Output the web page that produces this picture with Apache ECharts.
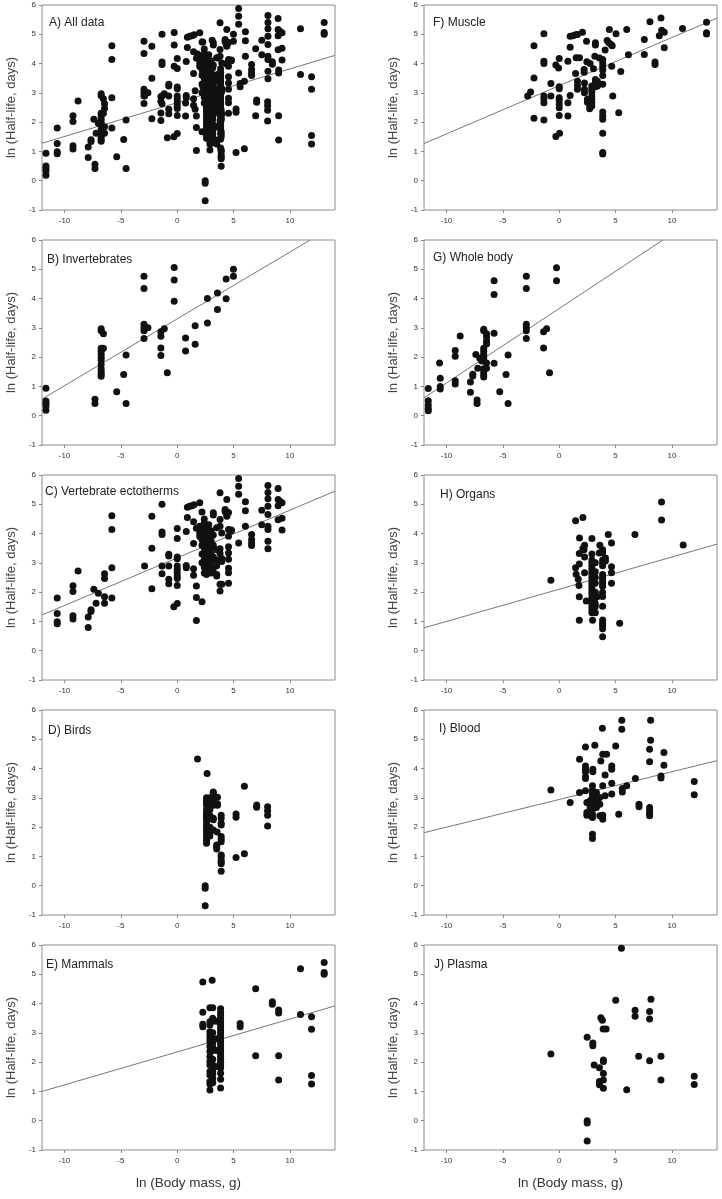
<!DOCTYPE html>
<html>
<head>
    <meta charset="utf-8">
    <script src="https://cdn.jsdelivr.net/npm/echarts@6/dist/echarts.min.js"></script>
    <style>
        html, body { margin: 0; padding: 0; background: #fff; }
    </style>
</head>
<body>
    <div id="main" style="width:722px;height:1199px;"></div>
    <script type="text/javascript">
        // each row: [x, y1, y2, ...]  (points sharing the same ln body mass)
        var invertebrates = [
            [-11.65, 0.94, 0.5, 0.42, 0.33, 0.19],
            [-7.3, 0.56, 0.42],
            [-6.75, 2.97, 2.9, 2.3, 2.2, 2.1, 2.0, 1.9, 1.75, 1.6, 1.5, 1.42, 1.35],
            [-6.55, 2.8, 2.3],
            [-5.37, 0.82],
            [-4.75, 1.41],
            [-4.54, 2.07, 0.42],
            [-2.95, 4.76, 4.34, 3.12, 3.0, 2.9, 2.64],
            [-2.6, 3.0],
            [-1.45, 2.87, 2.71, 2.31, 2.06],
            [-1.15, 2.97],
            [-0.88, 1.47],
            [-0.27, 5.06, 4.63, 3.91],
            [0.74, 2.65, 2.21],
            [1.59, 3.07, 2.44],
            [2.68, 4.0, 3.17],
            [3.57, 4.19, 3.63],
            [4.34, 4.67, 3.99],
            [4.99, 5.0, 4.76]
        ];
        var ectotherms = [
            [-10.65, 1.8, 1.27, 0.99, 0.92],
            [-9.25, 2.22, 2.02, 1.19, 1.08],
            [-8.8, 2.72],
            [-7.9, 1.15, 0.79],
            [-7.65, 1.4, 1.34],
            [-7.4, 2.1],
            [-7.2, 1.62],
            [-7.0, 1.96],
            [-6.45, 2.63, 2.47, 1.84, 1.62],
            [-5.8, 4.61, 4.14, 2.83, 1.8],
            [-2.9, 2.89],
            [-2.25, 4.59, 3.5, 2.12],
            [-1.35, 5.0, 4.05, 3.97, 2.89, 2.63],
            [-0.75, 3.29, 3.23, 2.89, 2.44, 2.29],
            [-0.3, 1.5],
            [0, 1.61, 4.17, 3.83, 3.2, 3.14, 2.89, 2.78, 2.66, 2.55, 2.47, 2.23],
            [0.8, 4.07, 2.91, 2.83],
            [0.9, 4.9, 4.55],
            [1.1, 4.93],
            [1.3, 4.95],
            [1.5, 4.98],
            [1.45, 3.66, 2.8, 2.58, 4.4],
            [1.7, 4.18, 2.21, 1.82, 1.03],
            [2.0, 5.05, 4.25, 4.0, 3.9],
            [2.2, 1.67, 4.74, 4.15, 3.8, 3.6, 3.3, 3.0],
            [2.4, 4.5, 4.35, 4.05, 3.85, 3.5, 3.25, 3.1, 2.85, 2.65],
            [2.6, 4.2, 4.0, 3.95, 3.7, 3.4, 3.2, 3.0, 2.9, 2.75, 2.6],
            [2.8, 4.3, 4.05, 3.9, 3.55, 3.35, 3.15, 2.95, 2.7],
            [3.0, 4.1, 3.9, 3.75, 3.5, 3.3, 3.23, 3.05, 2.85, 2.65],
            [3.2, 4.71, 4.63, 3.95, 3.6, 3.2, 2.8],
            [3.5, 4.2, 3.45, 3.1, 2.9, 2.6, 2.55],
            [3.8, 5.39, 4.48, 4.25, 3.48, 3.32, 3.1, 2.27, 2.04],
            [3.95, 4.02, 3.15, 3.05, 2.27],
            [4.25, 4.82, 4.75],
            [4.4, 5.16, 4.59, 4.64],
            [4.55, 4.72, 4.14, 3.91, 3.55, 3.34, 3.12, 2.82, 2.66, 2.3],
            [4.8, 4.12, 4.1],
            [5.45, 5.88, 5.62, 5.34, 3.68],
            [6.05, 5.09, 4.78, 4.25],
            [6.6, 3.97, 3.8, 3.68, 3.59],
            [7.5, 4.8, 4.3],
            [8.05, 5.64, 5.4, 5.19, 4.93, 4.65, 4.25, 4.14, 3.74, 3.48],
            [8.95, 5.54, 5.16, 4.95, 4.47],
            [9.1, 5.1],
            [9.3, 5.05, 4.52, 4.12]
        ];
        var birds = [
            [1.8, 4.33],
            [2.65, 3.83],
            [2.48, 0.0, -0.09, -0.68],
            [2.6, 3.0, 2.9, 2.85, 2.75, 2.6, 2.5, 2.45, 2.4, 2.35, 2.3, 2.2, 2.1, 2.0, 1.9, 1.85, 1.75, 1.65, 1.55, 1.45],
            [2.9, 3.0, 2.8, 2.6, 2.4, 2.3, 2.0, 1.9, 1.8, 1.7],
            [3.2, 3.2, 3.15, 2.95, 2.75, 2.3, 2.25, 1.9],
            [3.57, 3.02, 2.8, 2.75],
            [3.54, 1.83],
            [3.5, 1.39, 1.34, 1.25],
            [3.9, 2.41, 2.3, 2.13, 2.07, 1.68, 1.59, 1.5, 1.05, 1.0, 0.88, 0.8, 0.75, 0.49],
            [5.22, 2.45, 2.34, 0.96],
            [5.96, 3.4, 1.09],
            [7.05, 2.76, 2.68],
            [8.02, 2.7, 2.56, 2.41, 2.04]
        ];
        var mammals = [
            [2.27, 4.74, 3.7, 3.29, 3.21],
            [3.1, 4.8],
            [2.9, 3.86, 3.38, 3.27, 3.04, 2.93, 2.81, 2.7, 2.53, 2.36, 2.19, 2.02, 1.9, 1.68, 1.56, 1.34, 1.25, 1.05],
            [3.15, 3.86, 3.5, 3.4, 3.0, 2.8, 2.65, 2.5, 2.4, 2.1, 1.9, 1.7, 1.6, 1.45, 1.3],
            [3.5, 3.4, 2.8, 2.4, 1.85],
            [3.85, 3.82, 3.7, 3.6, 3.5, 3.4, 3.3, 3.2, 3.1, 3.0, 2.9, 2.8, 2.7, 2.6, 2.5, 2.4, 2.3, 2.2, 2.1, 2.0, 1.9, 1.8, 1.62, 1.42, 1.12],
            [5.58, 3.32, 3.21],
            [6.96, 4.51, 2.22],
            [8.44, 4.06, 3.98],
            [9.0, 3.78, 3.68, 2.22, 1.39],
            [10.94, 5.19, 3.63],
            [11.92, 3.55, 3.12, 1.54, 1.25],
            [13.04, 5.4, 5.06, 5.0]
        ];
        var muscle = [
            [-2.8, 2.89],
            [-2.54, 3.03],
            [-2.24, 4.61, 3.51, 2.13],
            [-1.36, 5.02, 4.08, 4.0, 2.89, 2.8, 2.66, 2.07],
            [-0.74, 3.32, 2.89],
            [-0.3, 3.95, 1.51],
            [-0.06, 3.85],
            [0.03, 1.62],
            [0, 4.17, 3.21, 3.14, 2.83, 2.74, 2.61, 2.49, 2.23],
            [0.77, 4.08, 2.66, 2.21],
            [0.97, 4.93, 4.56, 2.91],
            [1.21, 4.95],
            [1.45, 4.98, 3.66],
            [1.62, 4.99, 3.4, 3.25, 3.12],
            [1.5, 4.2],
            [1.8, 4.2],
            [2.06, 5.07],
            [2.24, 3.34, 3.12, 3.0],
            [2.21, 3.8, 3.7],
            [2.42, 4.76],
            [2.45, 4.06],
            [2.74, 4.0],
            [2.5, 2.78, 2.68],
            [2.7, 2.57, 2.46],
            [2.89, 3.23, 3.12, 3.03, 2.89, 2.78, 2.66, 2.55],
            [3.04, 3.82],
            [3.21, 4.71, 4.63, 3.46, 3.34, 3.21],
            [3.16, 4.25],
            [3.39, 3.4, 3.23],
            [3.57, 4.19],
            [3.86, 4.14, 4.02, 3.91, 3.78, 3.59, 3.29, 2.35, 2.21, 2.1, 1.62, 0.96, 0.91],
            [4.07, 4.46],
            [4.25, 4.79],
            [4.4, 4.71],
            [4.6, 4.65],
            [4.7, 4.61],
            [4.45, 5.16],
            [4.66, 3.91],
            [4.75, 2.89],
            [5.04, 5.02],
            [5.46, 3.73],
            [5.28, 2.32],
            [5.99, 5.16],
            [6.14, 4.3],
            [7.55, 4.82, 4.31],
            [8.05, 5.43],
            [8.5, 4.05, 3.97],
            [8.88, 4.95],
            [9.03, 5.56],
            [9.09, 5.14],
            [9.32, 5.07, 4.54],
            [10.94, 5.2],
            [13.07, 5.41, 5.05, 5.01]
        ];
        var wholeBody = [
            [-11.62, 0.93, 0.51, 0.37, 0.24, 0.17],
            [-10.62, 1.8],
            [-10.56, 1.28, 1.0, 0.91],
            [-9.23, 2.23, 2.03, 1.19, 1.08],
            [-8.79, 2.72],
            [-7.88, 1.15, 0.8],
            [-7.67, 1.42, 1.36],
            [-7.4, 2.09],
            [-7.29, 0.54, 0.42],
            [-7.23, 1.62],
            [-7.05, 1.96],
            [-6.87, 1.87],
            [-6.7, 2.95, 2.9, 2.3, 2.2, 2.1, 2.0, 1.9, 1.6, 1.5, 1.4, 1.32],
            [-6.45, 2.8, 2.7, 2.55, 2.45, 1.8, 1.62],
            [-5.78, 4.61, 4.14, 2.82, 1.79],
            [-5.28, 0.82],
            [-4.72, 1.41],
            [-4.54, 2.07, 0.42],
            [-2.92, 4.76, 4.34, 3.12, 3.0, 2.9, 2.64],
            [-1.39, 2.87, 2.31],
            [-1.12, 2.97],
            [-0.86, 1.47],
            [-0.24, 5.05, 4.61]
        ];
        var organs = [
            [-0.74, 2.41],
            [1.45, 4.44, 2.83],
            [2.1, 4.55, 3.5],
            [1.5, 2.61],
            [1.69, 2.44],
            [1.75, 2.23],
            [1.78, 3.32, 2.96, 1.84, 1.04],
            [1.8, 3.85],
            [2.25, 3.6, 3.2, 2.66],
            [2.2, 3.45],
            [2.4, 1.7],
            [2.9, 3.83, 3.3, 3.1, 3.0, 2.9, 2.8, 2.7, 2.6, 2.5, 2.4, 2.3, 2.2, 2.1, 2.0, 1.9, 1.8, 1.7, 1.6, 1.5, 1.4, 1.3],
            [3.2, 3.0, 2.7, 2.5, 2.3, 2.0, 1.8, 1.6, 1.5, 1.3],
            [2.96, 1.04],
            [3.4, 1.85],
            [3.55, 3.34],
            [3.61, 3.6],
            [3.85, 3.45, 3.35, 3.1, 3.0, 2.9, 2.6, 2.5, 2.4, 2.3, 2.2, 2.0, 1.85, 1.52, 1.05, 0.95, 0.85, 0.75, 0.48],
            [4.1, 3.17, 3.06],
            [4.35, 3.97],
            [4.64, 3.68, 2.87, 2.66, 2.3],
            [5.36, 0.94],
            [6.72, 3.97],
            [9.08, 5.08, 4.46],
            [11.0, 3.61]
        ];
        var blood = [
            [-0.74, 3.27],
            [0.97, 2.84],
            [1.8, 4.32, 3.18],
            [2.33, 4.74, 4.09, 3.98, 3.89, 3.72, 3.66, 3.24],
            [2.45, 2.84, 2.5, 2.41],
            [2.74, 2.9, 2.67, 2.41],
            [2.98, 3.98, 3.89],
            [2.95, 3.41, 3.26, 3.13, 3.01, 2.93, 2.78, 2.61, 2.44, 2.33, 1.76, 1.61],
            [3.16, 4.8],
            [3.3, 3.18, 3.07, 2.84, 2.67],
            [3.6, 3.01, 2.78, 2.39],
            [3.69, 4.26],
            [3.83, 5.38],
            [3.86, 4.49, 3.41, 2.41, 2.27],
            [4.2, 4.49],
            [4.07, 3.78, 3.07],
            [4.66, 4.09, 3.98, 3.5, 3.13],
            [5.01, 4.77],
            [5.28, 2.44],
            [5.55, 5.65, 5.34],
            [5.6, 3.32, 3.2],
            [5.99, 3.41],
            [6.76, 3.66],
            [7.08, 2.78, 2.7],
            [8.02, 4.66, 4.23, 2.67, 2.56, 2.47, 2.39],
            [8.11, 5.65, 4.97],
            [9.03, 3.75, 3.68],
            [9.29, 4.55, 4.11],
            [11.98, 3.56, 3.11]
        ];
        var plasma = [
            [-0.74, 2.28],
            [2.48, 2.85, 0.0, -0.08, -0.69],
            [2.98, 2.65, 2.56],
            [3.1, 1.9],
            [3.57, 1.81, 1.34, 1.23],
            [3.69, 3.52],
            [3.83, 3.43],
            [3.9, 3.13],
            [4.16, 3.13],
            [3.92, 2.07, 2.02, 1.61, 1.39, 1.11],
            [5.01, 4.11],
            [5.52, 5.89],
            [5.99, 1.06],
            [6.73, 3.77, 3.57],
            [7.05, 2.2],
            [8.02, 3.73, 3.47, 2.05],
            [8.14, 4.15],
            [9.03, 2.2, 1.39],
            [11.98, 1.52, 1.24]
        ];

        // regression line end points
        var fitA = [[-12, 1.28], [14, 4.28]];
        var fitB = [[-12, 0.57], [11.8, 6]];
        var fitC = [[-12, 1.22], [14, 5.45]];
        var fitE = [[-12, 1.0], [14, 3.92]];
        var fitF = [[-12, 1.27], [14, 5.55]];
        var fitG = [[-12, 0.61], [9.2, 6]];
        var fitH = [[-12, 0.78], [14, 3.64]];
        var fitI = [[-12, 1.81], [14, 4.27]];

        var xTicks = [-10, -5, 0, 5, 10];
        var xName = 'ln (Body mass, g)';
        var yName = 'ln (Half-life, days)';

        function pts(rows) {
            var out = [];
            for (var i = 0; i < rows.length; i++) {
                for (var j = 1; j < rows[i].length; j++) {
                    out.push([rows[i][0], rows[i][j]]);
                }
            }
            return out;
        }

        var allData = pts(invertebrates).concat(pts(ectotherms), pts(birds), pts(mammals));

        var panels = [
            {label: 'A) All data', col: 0, row: 0, data: allData, fit: fitA, lx: 49, ly: 24},
            {label: 'B) Invertebrates', col: 0, row: 1, data: pts(invertebrates), fit: fitB, lx: 47, ly: 261},
            {label: 'C) Vertebrate ectotherms', col: 0, row: 2, data: pts(ectotherms), fit: fitC, lx: 45, ly: 493},
            {label: 'D) Birds', col: 0, row: 3, data: pts(birds), fit: null, lx: 48, ly: 732},
            {label: 'E) Mammals', col: 0, row: 4, data: pts(mammals), fit: fitE, lx: 46, ly: 966},
            {label: 'F) Muscle', col: 1, row: 0, data: pts(muscle), fit: fitF, lx: 433, ly: 24},
            {label: 'G) Whole body', col: 1, row: 1, data: pts(wholeBody), fit: fitG, lx: 433, ly: 259},
            {label: 'H) Organs', col: 1, row: 2, data: pts(organs), fit: fitH, lx: 440, ly: 496},
            {label: 'I) Blood', col: 1, row: 3, data: pts(blood), fit: fitI, lx: 439, ly: 730},
            {label: 'J) Plasma', col: 1, row: 4, data: pts(plasma), fit: null, lx: 434, ly: 966}
        ];

        var colLeft = [42, 424];
        var rowTop = [5, 240, 475, 710, 945];
        var font = 'Liberation Sans, Arial, sans-serif';

        var grid = [], xAxis = [], yAxis = [], series = [], title = [];
        panels.forEach(function (p, i) {
            grid.push({
                left: colLeft[p.col], top: rowTop[p.row], width: 293, height: 205,
                show: true, borderColor: '#8c8c8c', borderWidth: 1
            });
            xAxis.push({
                gridIndex: i, type: 'value', min: -12, max: 14, position: 'bottom',
                name: p.row === 4 ? xName : '',
                nameLocation: 'middle', nameGap: 26,
                nameTextStyle: {fontSize: 13.5, color: '#333', fontFamily: font},
                axisLine: {show: false, onZero: false},
                axisTick: {show: true, inside: false, length: 3, customValues: xTicks, lineStyle: {color: '#888'}},
                axisLabel: {customValues: xTicks, fontSize: 8, color: '#333', margin: 7, fontFamily: font},
                splitLine: {show: false}
            });
            yAxis.push({
                gridIndex: i, type: 'value', min: -1, max: 6, interval: 1, position: 'left',
                name: yName, nameLocation: 'middle', nameGap: 24, nameRotate: 90,
                nameTextStyle: {fontSize: 13, color: '#444', fontFamily: font},
                axisLine: {show: false, onZero: false},
                axisTick: {show: true, inside: false, length: 3, lineStyle: {color: '#888'}},
                axisLabel: {fontSize: 8, color: '#333', margin: 6, fontFamily: font},
                splitLine: {show: false}
            });
            title.push({
                text: p.label, left: p.lx, top: p.ly - 7, padding: 0,
                textStyle: {fontSize: 12, fontWeight: 'normal', color: '#222', fontFamily: font}
            });
            series.push({
                type: 'scatter', xAxisIndex: i, yAxisIndex: i,
                data: p.data, symbolSize: 7,
                itemStyle: {color: '#111', opacity: 1}
            });
            if (p.fit) {
                series.push({
                    type: 'line', xAxisIndex: i, yAxisIndex: i,
                    data: p.fit, symbol: 'none', z: 1,
                    lineStyle: {color: '#777', width: 1}
                });
            }
        });

        var myChart = echarts.init(document.getElementById('main'));
        myChart.setOption({
            animation: false,
            backgroundColor: '#fff',
            title: title,
            grid: grid,
            xAxis: xAxis,
            yAxis: yAxis,
            series: series
        });
    </script>
</body>
</html>
